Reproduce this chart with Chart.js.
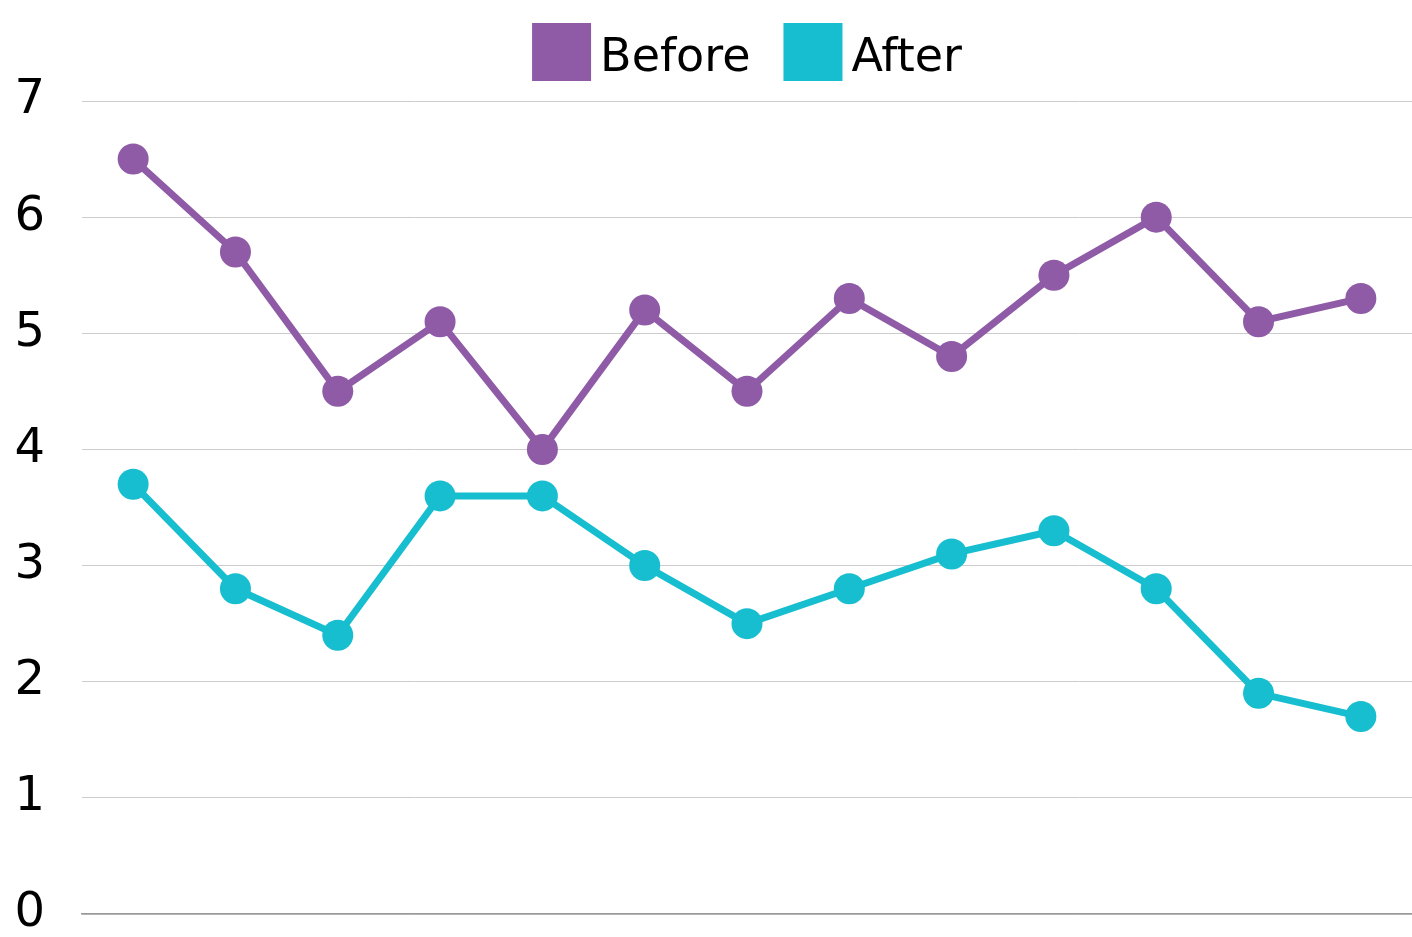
<!DOCTYPE html>
<html>
<head>
<meta charset="utf-8">
<script src="https://cdn.jsdelivr.net/npm/chart.js@4"></script>
<style>
  html, body { margin: 0; padding: 0; background: #fff; }
  #wrap { width: 1412px; height: 937px; }
</style>
</head>
<body>
<div id="wrap"><canvas id="chart"></canvas></div>
<script>
var labels = ["1", "2", "3", "4", "5", "6", "7", "8", "9", "10", "11", "12", "13"];
var beforeValues = [6.5, 5.7, 4.5, 5.1, 4.0, 5.2, 4.5, 5.3, 4.8, 5.5, 6.0, 5.1, 5.3];
var afterValues = [3.7, 2.8, 2.4, 3.6, 3.6, 3.0, 2.5, 2.8, 3.1, 3.3, 2.8, 1.9, 1.7];
var yTicks = [0, 1, 2, 3, 4, 5, 6, 7];

var purple = "#8f5ba6";
var cyan = "#17becf";
var fontName = "'DejaVu Sans', sans-serif";

Chart.defaults.font.family = fontName;
Chart.defaults.color = "#000";

// legend drawn by hand: tight gap between swatch and text, centred on the plot area
var topLegend = {
    id: 'topLegend',
    afterDraw: function (chart) {
        var c = chart.ctx;
        var area = chart.chartArea;
        var box = 59, boxH = 58, gap = 9, itemGap = 33;
        c.save();
        c.font = "46px " + fontName;
        var items = chart.data.datasets.map(function (ds) {
            return { text: ds.label, color: ds.borderColor, w: c.measureText(ds.label).width };
        });
        var total = 0;
        items.forEach(function (it, i) {
            total += box + gap + it.w + (i > 0 ? itemGap : 0);
        });
        var x = (area.left + area.right) / 2 - total / 2;
        items.forEach(function (it) {
            c.fillStyle = it.color;
            c.fillRect(x, 23, box, boxH);
            c.fillStyle = "#000";
            c.textBaseline = "alphabetic";
            c.textAlign = "left";
            c.fillText(it.text, x + box + gap, 71);
            x += box + gap + it.w + itemGap;
        });
        c.restore();
    }
};

var ctx = document.getElementById("chart");
var myChart = new Chart(ctx, {
    type: 'line',
    data: {
        labels: labels,
        datasets: [{
            label: 'Before',
            data: beforeValues,
            borderColor: purple,
            backgroundColor: purple,
            pointBackgroundColor: purple,
            pointBorderWidth: 0,
            pointRadius: 15.5,
            borderWidth: 7,
            tension: 0
        }, {
            label: 'After',
            data: afterValues,
            borderColor: cyan,
            backgroundColor: cyan,
            pointBackgroundColor: cyan,
            pointBorderWidth: 0,
            pointRadius: 15.5,
            borderWidth: 7,
            tension: 0
        }]
    },
    plugins: [topLegend],
    options: {
        responsive: true,
        maintainAspectRatio: false,
        animation: false,
        layout: { autoPadding: false, padding: { left: 0, right: 0, top: 101, bottom: 23 } },
        plugins: {
            legend: { display: false },
            tooltip: { enabled: false }
        },
        scales: {
            x: {
                offset: true,
                ticks: { display: false },
                grid: { display: false, drawTicks: false },
                border: { display: true, color: '#999', width: 1.5 },
                afterFit: function (axis) { axis.height = 0; }
            },
            y: {
                min: 0,
                max: 7,
                afterBuildTicks: function (axis) {
                    axis.ticks = yTicks.map(function (v) { return { value: v }; });
                },
                afterFit: function (axis) {
                    axis.width = 82;
                    axis.paddingTop = 0;
                    axis.paddingBottom = 0;
                },
                ticks: { font: { size: 48, lineHeight: 1 }, padding: 37 },
                grid: { color: '#cccccc', lineWidth: 1, drawTicks: false },
                border: { display: false }
            }
        }
    }
});
</script>
</body>
</html>
